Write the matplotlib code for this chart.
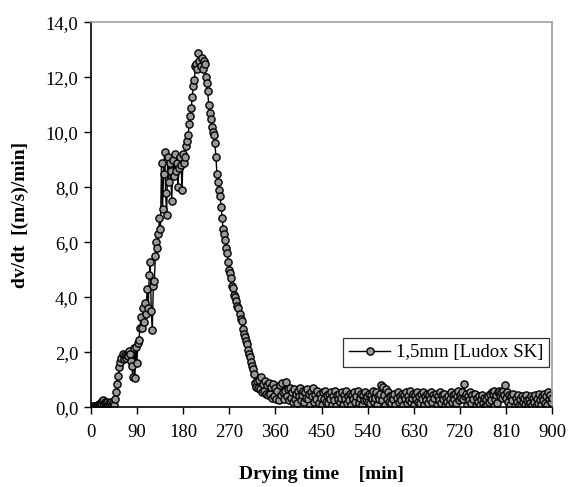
import numpy as np
import matplotlib
matplotlib.use("Agg")
import matplotlib.pyplot as plt

# dv/dt values, sampled every 2 min (0..380 min)
rate_main = [0.02, 0.0, 0.03, 0.01, 0.05, 0.02, 0.04, 0.08, 0.12, 0.1,
             0.14, 0.22, 0.25, 0.12, 0.18, 0.15, 0.2, 0.1, 0.16, 0.12,
             0.18, 0.1, 0.14, 0.08,
             0.3, 0.55, 0.85, 1.15, 1.45, 1.65, 1.8, 1.95, 1.75, 1.9,
             1.8, 1.9, 1.85, 2.05, 1.95, 1.7, 1.5, 1.1, 2.15, 1.05,
             2.2, 1.6, 2.35, 2.45, 2.9, 3.3, 2.9, 3.6, 3.1, 3.8,
             3.4, 4.3, 3.6, 4.8, 5.3, 3.5, 2.8, 4.4, 4.6, 5.5,
             6.0, 5.8, 6.3, 6.9, 6.5, 8.9, 7.2, 8.5, 9.3, 7.8,
             7.0, 9.1, 8.2, 8.9, 8.6, 7.5, 9.0, 8.4, 9.2, 8.6,
             8.9, 8.0, 8.7, 9.1, 8.8, 7.9, 9.2, 8.9, 9.1, 9.5,
             9.7, 9.9, 10.3, 10.6, 10.9, 11.3, 11.7, 11.9, 12.4, 12.5,
             12.3, 12.9, 12.6, 12.4, 12.7, 12.3, 12.6, 12.5, 12.0, 11.8,
             11.5, 11.0, 10.7, 10.5, 10.2, 10.0, 9.9, 9.6, 9.1, 8.5,
             8.2, 7.9, 7.7, 7.3, 6.9, 6.5, 6.3, 6.1, 5.8, 5.6,
             5.3, 5.0, 4.9, 4.7, 4.4, 4.35, 4.1, 4.0, 3.85, 3.7,
             3.6, 3.4, 3.2, 3.15, 2.85, 2.65, 2.55, 2.4, 2.3, 2.1,
             1.95, 1.84, 1.65, 1.5, 1.4, 1.2, 0.9, 0.75, 0.95, 0.7,
             1.0, 0.65, 1.1, 0.55, 0.85, 0.6, 0.95, 0.5, 0.8, 0.45,
             0.9, 0.5, 0.75, 0.35, 0.85, 0.4, 0.7, 0.3, 0.6, 0.25,
             0.8, 0.45, 0.9, 0.55, 0.3, 0.6, 0.93]
# dv/dt values, sampled every 2 min (382..900 min)
rate_tail = [0.4, 0.65, 0.25, 0.7, 0.35, 0.55, 0.2, 0.65, 0.3, 0.5,
             0.15, 0.6, 0.4, 0.7, 0.25, 0.45, 0.6, 0.2, 0.55, 0.35,
             0.65, 0.3, 0.5, 0.1, 0.55, 0.4, 0.7, 0.2, 0.45, 0.3,
             0.6, 0.15, 0.5, 0.35, 0.1, 0.55, 0.3, 0.6, 0.2, 0.45,
             0.15, 0.5, 0.3, 0.55, 0.1, 0.4, 0.25, 0.6, 0.05, 0.45,
             0.3, 0.5, 0.2, 0.35, 0.55, 0.1, 0.45, 0.3, 0.6, 0.15,
             0.4, 0.25, 0.5, 0.1, 0.45, 0.3, 0.55, 0.2, 0.4, 0.6,
             0.15, 0.35, 0.5, 0.1, 0.45, 0.25, 0.55, 0.3, 0.4, 0.2,
             0.5, 0.15, 0.45, 0.3, 0.6, 0.2, 0.35, 0.55, 0.1, 0.4,
             0.3, 0.5, 0.8, 0.25, 0.75, 0.45, 0.1, 0.65, 0.3, 0.55,
             0.2, 0.4, 0.15, 0.45, 0.3, 0.5, 0.1, 0.35, 0.55, 0.2,
             0.4, 0.25, 0.5, 0.1, 0.45, 0.3, 0.55, 0.15, 0.4, 0.25,
             0.6, 0.2, 0.35, 0.5, 0.1, 0.45, 0.3, 0.55, 0.2, 0.4,
             0.15, 0.5, 0.3, 0.55, 0.1, 0.4, 0.25, 0.5, 0.15, 0.45,
             0.3, 0.55, 0.2, 0.45, 0.35, 0.5, 0.1, 0.4, 0.25, 0.55,
             0.15, 0.45, 0.3, 0.5, 0.05, 0.35, 0.2, 0.4, 0.1, 0.3,
             0.55, 0.2, 0.45, 0.3, 0.5, 0.15, 0.4, 0.6, 0.25, 0.45,
             0.35, 0.55, 0.3, 0.85, 0.4, 0.5, 0.1, 0.4, 0.25, 0.55,
             0.15, 0.45, 0.3, 0.5, 0.05, 0.35, 0.2, 0.4, 0.1, 0.3,
             0.45, 0.15, 0.35, 0.05, 0.3, 0.1, 0.4, 0.2, 0.5, 0.25,
             0.55, 0.5, 0.6, 0.3, 0.45, 0.15, 0.55, 0.6, 0.4, 0.55,
             0.35, 0.6, 0.45, 0.8, 0.35, 0.55, 0.2, 0.45, 0.1, 0.4,
             0.25, 0.5, 0.05, 0.35, 0.2, 0.45, 0.1, 0.3, 0.05, 0.4,
             0.2, 0.35, 0.1, 0.45, 0.25, 0.05, 0.3, 0.15, 0.4, 0.1,
             0.35, 0.2, 0.45, 0.05, 0.3, 0.15, 0.5, 0.25, 0.1, 0.4,
             0.25, 0.5, 0.15, 0.4, 0.1, 0.55, 0.3, 0.45, 0.2, 0.35]
step_min = 2
time_main = np.arange(len(rate_main)) * step_min
time_tail = 900 - step_min * np.arange(len(rate_tail))[::-1]
time = np.concatenate([time_main, time_tail])
rate = np.array(rate_main + rate_tail)

x_ticks = [0, 90, 180, 270, 360, 450, 540, 630, 720, 810, 900]
y_ticks = [0, 2, 4, 6, 8, 10, 12, 14]
y_tick_labels = ["0,0", "2,0", "4,0", "6,0", "8,0", "10,0", "12,0", "14,0"]
series_label = "1,5mm [Ludox SK]"

plt.rcParams['font.family'] = ['Liberation Serif', 'DejaVu Serif']

fig = plt.figure(figsize=(5.68, 4.87), dpi=100)
ax = fig.add_axes([0.1597, 0.1637, 0.8130, 0.7905])

ax.plot(time, rate, color='black', lw=1.0, marker='o', markersize=5.2,
        markerfacecolor='#999999', markeredgecolor='black', markeredgewidth=1.0,
        label=series_label)

ax.set_xlim(0, 900)
ax.set_ylim(0, 14)
ax.set_xticks(x_ticks)
ax.set_yticks(y_ticks)
ax.set_yticklabels(y_tick_labels)
ax.tick_params(axis='both', direction='out', labelsize=13.5, length=5, width=1, pad=4)
ax.tick_params(axis='x', pad=7)

for s in ['top', 'right']:
    ax.spines[s].set_color('#a0a0a0')
    ax.spines[s].set_linewidth(1.2)
for s in ['left', 'bottom']:
    ax.spines[s].set_color('black')
    ax.spines[s].set_linewidth(1.2)

ax.set_xlabel("Drying time    [min]", fontsize=14, fontweight='bold', labelpad=18)
ax.set_ylabel("dv/dt  [(m/s)/min]", fontsize=14, fontweight='bold', labelpad=12)

leg = ax.legend(loc='lower right', bbox_to_anchor=(0.992, 0.105), borderaxespad=0,
                fontsize=13.5, frameon=True, fancybox=False, handlelength=2.2,
                handletextpad=0.3, borderpad=0.3)
leg.get_frame().set_edgecolor('black')
leg.get_frame().set_linewidth(0.9)

fig.savefig("out.png", dpi=100)
